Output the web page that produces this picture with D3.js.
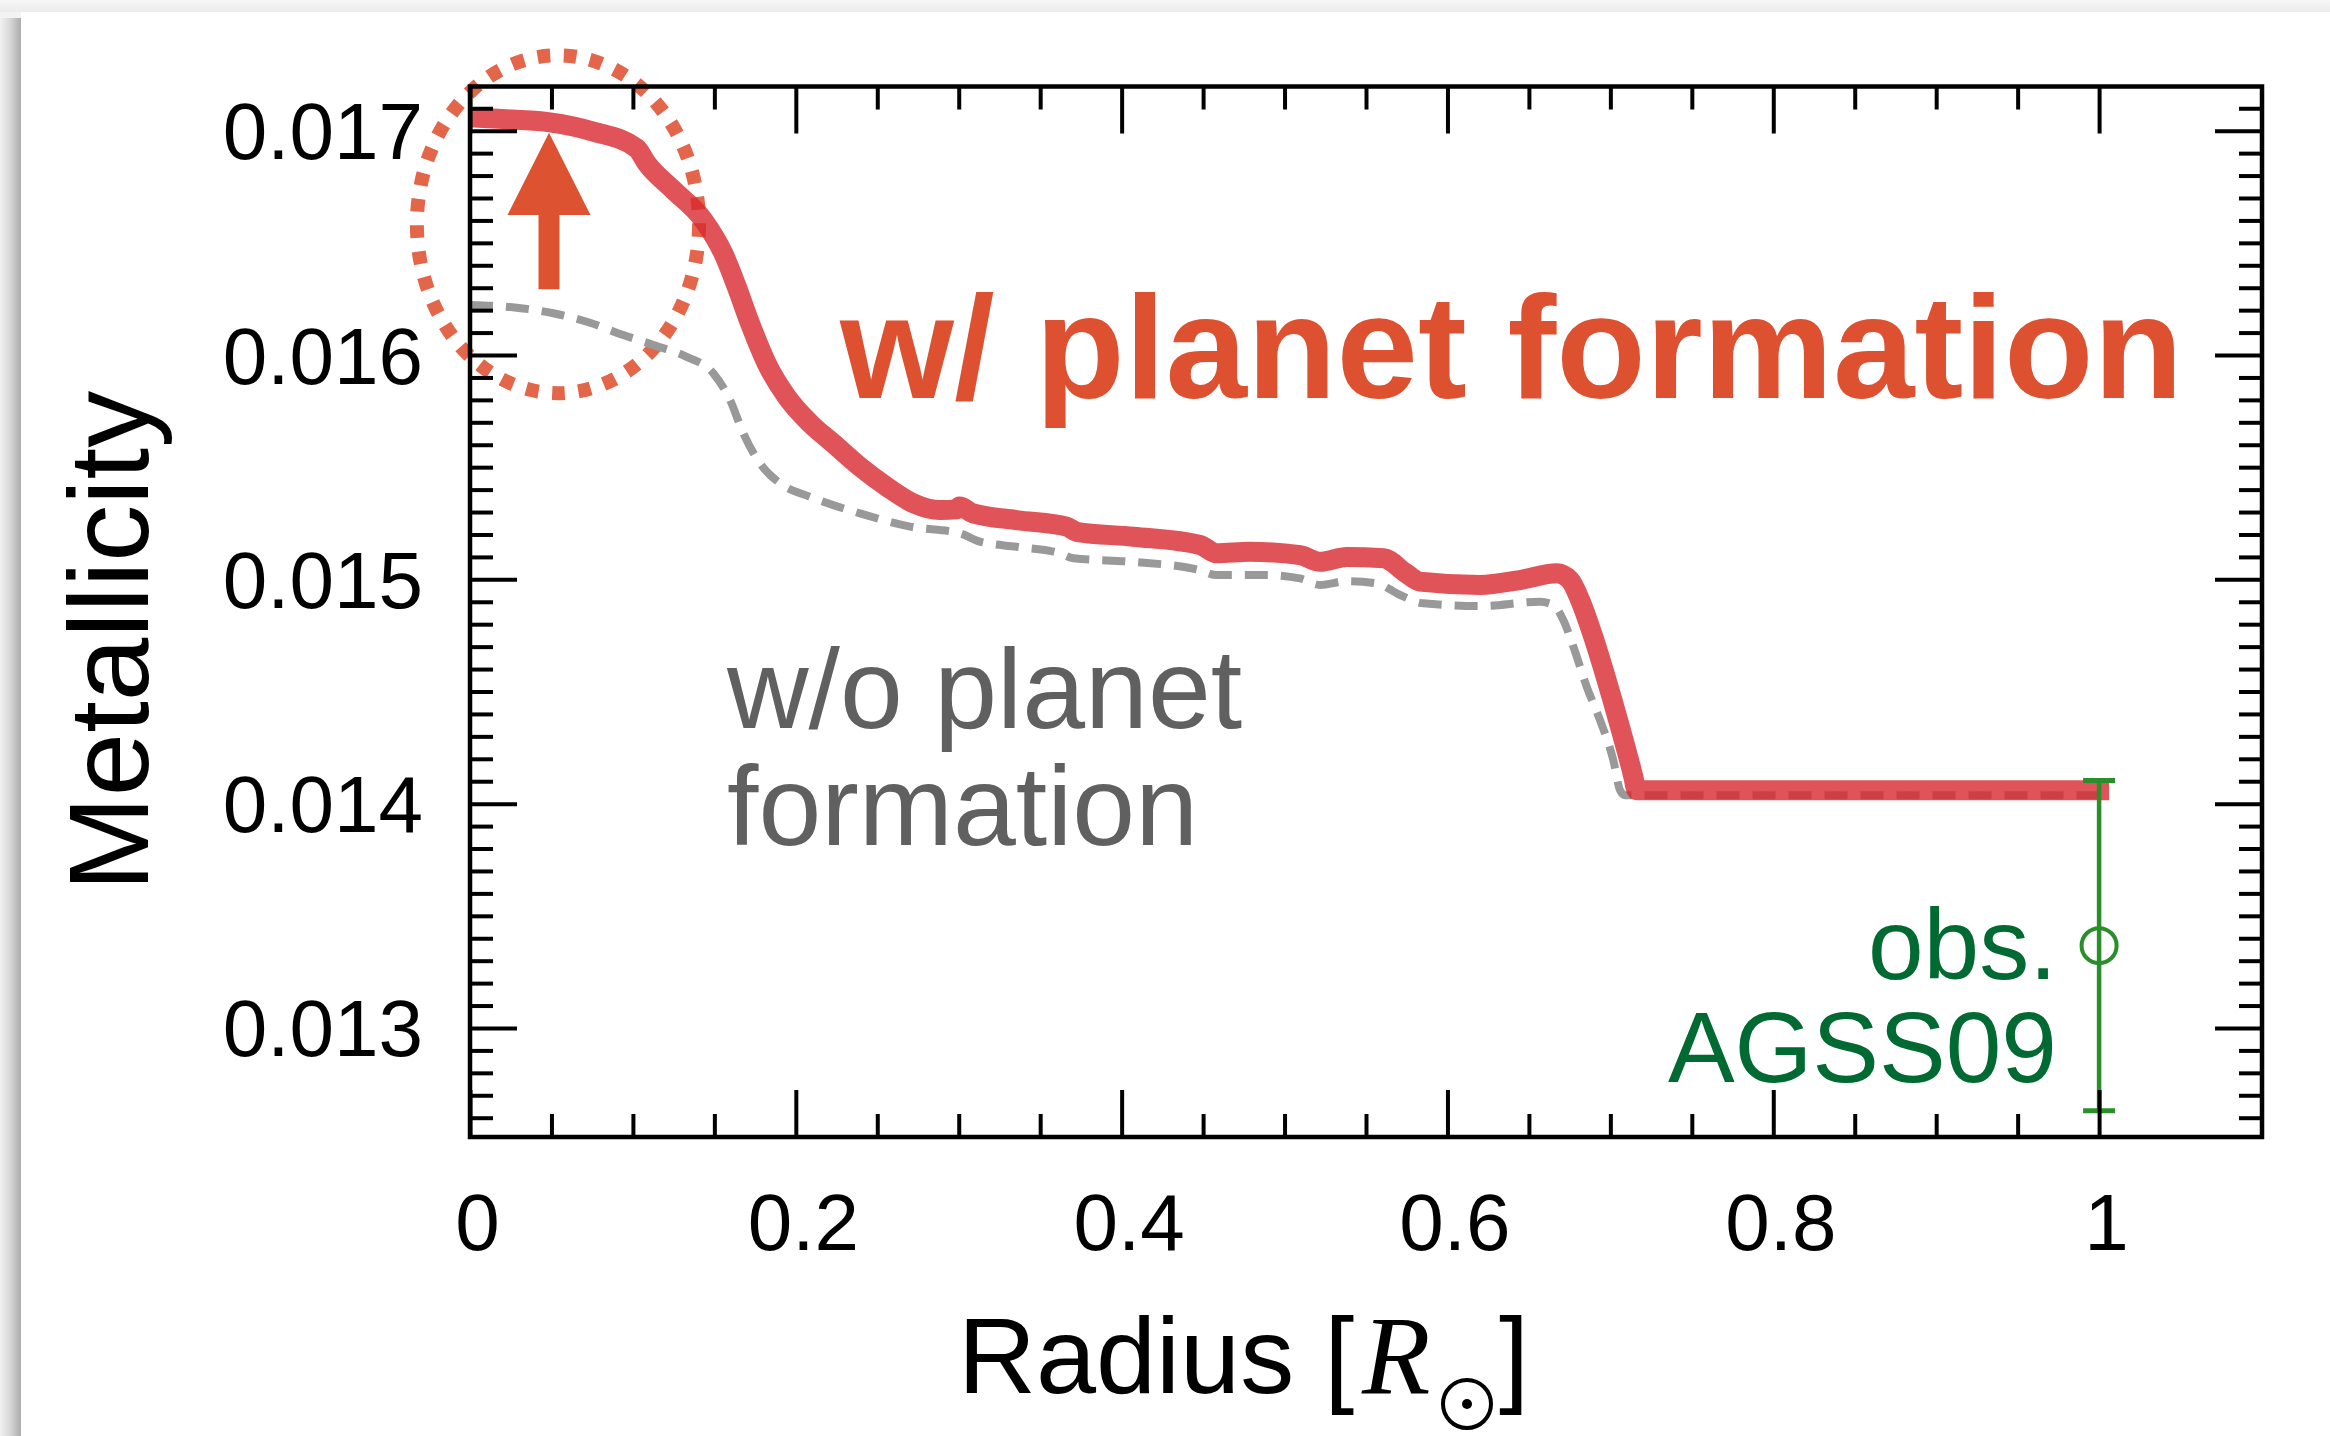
<!DOCTYPE html>
<html>
<head>
<meta charset="utf-8">
<script src="https://cdn.jsdelivr.net/npm/d3@7"></script>
<style>
  html, body { margin: 0; padding: 0; background: #f3f3f3; }
  svg { display: block; }
</style>
</head>
<body>
<svg id="chart" width="2330" height="1436"></svg>
<script>
// ---------------- DATA ----------------
// Metallicity profile with planet formation (solid red)
const radiusWith = [0, 0.025, 0.049, 0.0757, 0.1023, 0.1084, 0.1248, 0.1432, 0.1555, 0.1637, 0.1719, 0.1821, 0.1944, 0.2087, 0.223, 0.2394, 0.2558, 0.2722, 0.2885, 0.2987, 0.3005, 0.3088, 0.3356, 0.3663, 0.3724, 0.4072, 0.4481, 0.4583, 0.4788, 0.5095, 0.5218, 0.5382, 0.5607, 0.5746, 0.5831, 0.62, 0.6445, 0.6671, 0.6752, 0.6814, 0.6895, 0.6977, 0.7059, 0.7141, 0.7161, 1.0];
const zWith      = [0.01706, 0.01705, 0.017037, 0.016996, 0.016922, 0.016855, 0.016736, 0.016602, 0.016453, 0.016305, 0.016141, 0.015963, 0.015814, 0.015696, 0.015606, 0.015502, 0.015413, 0.015339, 0.015309, 0.015312, 0.015325, 0.015294, 0.015264, 0.015235, 0.015212, 0.01519, 0.015153, 0.015116, 0.015123, 0.015108, 0.015078, 0.0151, 0.015094, 0.015027, 0.01499, 0.014975, 0.014997, 0.015027, 0.014997, 0.014908, 0.014744, 0.014551, 0.014343, 0.01412, 0.01406, 0.01406];

// Metallicity profile without planet formation (grey dashed)
const radiusWithout = [0, 0.0287, 0.0512, 0.0737, 0.0941, 0.1125, 0.133, 0.1494, 0.1596, 0.1678, 0.178, 0.1903, 0.2087, 0.2394, 0.2701, 0.3008, 0.3131, 0.3356, 0.3622, 0.3704, 0.4072, 0.4481, 0.4583, 0.489, 0.5095, 0.5218, 0.5382, 0.5566, 0.5709, 0.5852, 0.62, 0.6568, 0.665, 0.6711, 0.6773, 0.6855, 0.6936, 0.7018, 0.7059, 0.7089, 1.0];
const zWithout      = [0.016223, 0.016211, 0.016186, 0.016144, 0.016089, 0.016045, 0.015992, 0.015918, 0.0158, 0.015651, 0.015517, 0.015428, 0.015368, 0.015294, 0.015235, 0.015205, 0.015168, 0.015145, 0.015116, 0.015094, 0.015078, 0.015041, 0.015019, 0.015019, 0.015004, 0.014975, 0.014992, 0.014982, 0.01493, 0.014893, 0.014881, 0.0149, 0.014885, 0.014819, 0.0147, 0.014521, 0.014373, 0.014194, 0.014061, 0.014038, 0.014038];

// Observation AGSS09
const obsRadius = [1.0];
const obsZ      = [0.013367];
const obsErr    = [0.000736];

// Axes
const xDomain = [0, 1.1];
const yDomain = [0.012514, 0.017197];
const xMajorTicks = [0, 0.2, 0.4, 0.6, 0.8, 1.0];
const xTickLabels = ["0", "0.2", "0.4", "0.6", "0.8", "1"];
const yMajorTicks = [0.013, 0.014, 0.015, 0.016, 0.017];
const yTickLabels = ["0.013", "0.014", "0.015", "0.016", "0.017"];

// Annotations (data coordinates)
const arrowR = 0.0485, arrowTipZ = 0.016991, arrowHeadBaseZ = 0.016624, arrowTailZ = 0.016293;
const ellipseCenter = [0.0540, 0.016583];
const ellipseRadii = [0.0866, 0.000753];

// ---------------- CHART ----------------
const W = 2330, H = 1436;
const plot = { left: 470, right: 2262, top: 86.5, bottom: 1137 };
const svg = d3.select("#chart");
const FONT = "'Liberation Sans', Arial, Helvetica, sans-serif";

const x = d3.scaleLinear().domain(xDomain).range([plot.left, plot.right]);
const y = d3.scaleLinear().domain(yDomain).range([plot.bottom, plot.top]);

// background panel with left/top shadow
const defs = svg.append("defs");
const lg = defs.append("linearGradient").attr("id", "leftShadow").attr("x1", "0").attr("x2", "1").attr("y1", "0").attr("y2", "0");
lg.append("stop").attr("offset", "0").attr("stop-color", "#f2f2f2");
lg.append("stop").attr("offset", "0.5").attr("stop-color", "#d6d6d6");
lg.append("stop").attr("offset", "1").attr("stop-color", "#acacac");
const tg = defs.append("linearGradient").attr("id", "topShadow").attr("x1", "0").attr("x2", "0").attr("y1", "0").attr("y2", "1");
tg.append("stop").attr("offset", "0").attr("stop-color", "#f7f7f7");
tg.append("stop").attr("offset", "1").attr("stop-color", "#ebebeb");
defs.append("clipPath").attr("id", "plotClip").append("rect")
  .attr("x", plot.left).attr("y", plot.top).attr("width", plot.right - plot.left).attr("height", plot.bottom - plot.top);

svg.append("rect").attr("x", 0).attr("y", 0).attr("width", W).attr("height", H).attr("fill", "#f3f3f3");
svg.append("rect").attr("x", 0).attr("y", 0).attr("width", W).attr("height", 12).attr("fill", "url(#topShadow)");
svg.append("rect").attr("x", 0).attr("y", 18).attr("width", 21).attr("height", H - 18).attr("fill", "url(#leftShadow)");
svg.append("rect").attr("x", 21).attr("y", 12).attr("width", W - 21).attr("height", H - 12).attr("fill", "#ffffff");

// ---- annotation ellipse (dotted) ----
const ex = x(ellipseCenter[0]), ey = y(ellipseCenter[1]);
const erx = x(ellipseRadii[0]) - x(0), ery = y(0.015) - y(0.015 + ellipseRadii[1]);
svg.append("ellipse")
  .attr("cx", ex).attr("cy", ey).attr("rx", erx).attr("ry", ery)
  .attr("fill", "none").attr("stroke", "#e3664a").attr("stroke-width", 14)
  .attr("pathLength", 1000).attr("stroke-dasharray", "13 14");

// ---- lines ----
const lineGen = d3.line().x(d => x(d[0])).y(d => y(d[1])).curve(d3.curveMonotoneX);
const gWithout = radiusWithout.map((r, i) => [r, zWithout[i]]);
const gWith = radiusWith.map((r, i) => [r, zWith[i]]);

const linesG = svg.append("g").attr("clip-path", "url(#plotClip)");
linesG.append("path").datum(gWithout).attr("d", lineGen)
  .attr("fill", "none").attr("stroke", "#999999").attr("stroke-width", 8)
  .attr("stroke-dasharray", "23 13").attr("stroke-linejoin", "round");

// ---- arrow ----
const ax = x(arrowR);
const shaftHalf = 10.5, headHalf = 41.5;
svg.append("path")
  .attr("d", `M${ax - shaftHalf},${y(arrowTailZ)} L${ax - shaftHalf},${y(arrowHeadBaseZ)} L${ax - headHalf},${y(arrowHeadBaseZ)} L${ax},${y(arrowTipZ)} L${ax + headHalf},${y(arrowHeadBaseZ)} L${ax + shaftHalf},${y(arrowHeadBaseZ)} L${ax + shaftHalf},${y(arrowTailZ)} Z`)
  .attr("fill", "#dd5230");

linesG.append("path").datum(gWith).attr("d", lineGen)
  .attr("fill", "none").attr("stroke", "rgb(215,40,48)").attr("stroke-opacity", 0.8)
  .attr("stroke-width", 20).attr("stroke-linejoin", "round").attr("stroke-linecap", "square");

// ---- observation with error bar ----
const obsG = svg.append("g");
obsRadius.forEach((r, i) => {
  const cx = x(r), cy = y(obsZ[i]);
  const yTop = y(obsZ[i] + obsErr[i]), yBot = y(obsZ[i] - obsErr[i]);
  obsG.append("line").attr("x1", cx).attr("x2", cx).attr("y1", yTop).attr("y2", yBot)
    .attr("stroke", "#2a8f2a").attr("stroke-width", 4.5);
  [yTop, yBot].forEach(yy => obsG.append("line").attr("x1", cx - 16).attr("x2", cx + 16).attr("y1", yy).attr("y2", yy)
    .attr("stroke", "#2a8f2a").attr("stroke-width", 5));
  obsG.append("circle").attr("cx", cx).attr("cy", cy).attr("r", 17.5)
    .attr("fill", "none").attr("stroke", "#2a8f2a").attr("stroke-width", 4);
});

// ---- axes ----
function styleAxis(g) {
  g.select(".domain").remove();
  g.selectAll(".tick line").attr("stroke", "#000").attr("stroke-width", 4);
  g.selectAll(".tick text").attr("font-family", FONT).attr("fill", "#000");
}
const xMinor = d3.range(0, 21).map(i => +(i * 0.05).toFixed(2)).filter(v => v <= 1.1 && !xMajorTicks.includes(v) && v > 0);
const yMinor = d3.range(126, 172).map(i => +(i * 0.0001).toFixed(4)).filter(v => !yMajorTicks.some(m => Math.abs(m - v) < 1e-9));

// bottom
svg.append("g").attr("transform", `translate(0,${plot.bottom})`)
  .call(d3.axisBottom(x).tickValues(xMajorTicks).tickSize(-47).tickPadding(0).tickFormat((d, i) => xTickLabels[i]))
  .call(styleAxis)
  .call(g => g.selectAll(".tick text").attr("font-size", 80).attr("dy", null).attr("y", 113).attr("dx", 7));
svg.append("g").attr("transform", `translate(0,${plot.bottom})`)
  .call(d3.axisBottom(x).tickValues(xMinor).tickSize(-23).tickFormat(""))
  .call(styleAxis);
// top
svg.append("g").attr("transform", `translate(0,${plot.top})`)
  .call(d3.axisTop(x).tickValues(xMajorTicks).tickSize(-47).tickFormat(""))
  .call(styleAxis);
svg.append("g").attr("transform", `translate(0,${plot.top})`)
  .call(d3.axisTop(x).tickValues(xMinor).tickSize(-23).tickFormat(""))
  .call(styleAxis);
// left
svg.append("g").attr("transform", `translate(${plot.left},0)`)
  .call(d3.axisLeft(y).tickValues(yMajorTicks).tickSize(-47).tickPadding(47).tickFormat((d, i) => yTickLabels[i]))
  .call(styleAxis)
  .call(g => g.selectAll(".tick text").attr("font-size", 80).attr("dy", "0.35em"));
svg.append("g").attr("transform", `translate(${plot.left},0)`)
  .call(d3.axisLeft(y).tickValues(yMinor).tickSize(-23).tickFormat(""))
  .call(styleAxis);
// right
svg.append("g").attr("transform", `translate(${plot.right},0)`)
  .call(d3.axisRight(y).tickValues(yMajorTicks).tickSize(-47).tickFormat(""))
  .call(styleAxis);
svg.append("g").attr("transform", `translate(${plot.right},0)`)
  .call(d3.axisRight(y).tickValues(yMinor).tickSize(-23).tickFormat(""))
  .call(styleAxis);

// frame
svg.append("rect").attr("x", plot.left).attr("y", plot.top)
  .attr("width", plot.right - plot.left).attr("height", plot.bottom - plot.top)
  .attr("fill", "none").attr("stroke", "#000").attr("stroke-width", 4.5);

// ---- axis titles ----
svg.append("text").attr("transform", "translate(148,641) rotate(-90)")
  .attr("text-anchor", "middle").attr("font-family", FONT).attr("font-size", 114).attr("fill", "#000")
  .text("Metallicity");

const xt = svg.append("g").attr("font-family", FONT).attr("fill", "#000");
xt.append("text").attr("x", 958).attr("y", 1393).attr("font-size", 108).text("Radius [");
xt.append("text").attr("x", 1362).attr("y", 1393).attr("font-size", 112)
  .attr("font-family", "'Liberation Serif', 'Times New Roman', serif").attr("font-style", "italic").text("R");
// solar symbol subscript
xt.append("circle").attr("cx", 1467).attr("cy", 1404).attr("r", 24).attr("fill", "none").attr("stroke", "#000").attr("stroke-width", 4);
xt.append("circle").attr("cx", 1467).attr("cy", 1404).attr("r", 5).attr("fill", "#000");
xt.append("text").attr("x", 1499).attr("y", 1393).attr("font-size", 108).text("]");

// ---- series labels ----
svg.append("text").attr("x", 840).attr("y", 398)
  .attr("font-family", FONT).attr("font-weight", "bold").attr("font-size", 146.5).attr("fill", "#dd5131")
  .text("w/ planet formation");

const gl = svg.append("text").attr("font-family", FONT).attr("font-size", 113).attr("fill", "#606060");
gl.append("tspan").attr("x", 727).attr("y", 728).text("w/o planet");
gl.append("tspan").attr("x", 727).attr("y", 845).text("formation");

const ol = svg.append("text").attr("font-family", FONT).attr("font-size", 100).attr("fill", "#006a32").attr("text-anchor", "end");
ol.append("tspan").attr("x", 2057).attr("y", 979).text("obs.");
ol.append("tspan").attr("x", 2057).attr("y", 1082).text("AGSS09");
</script>
</body>
</html>
